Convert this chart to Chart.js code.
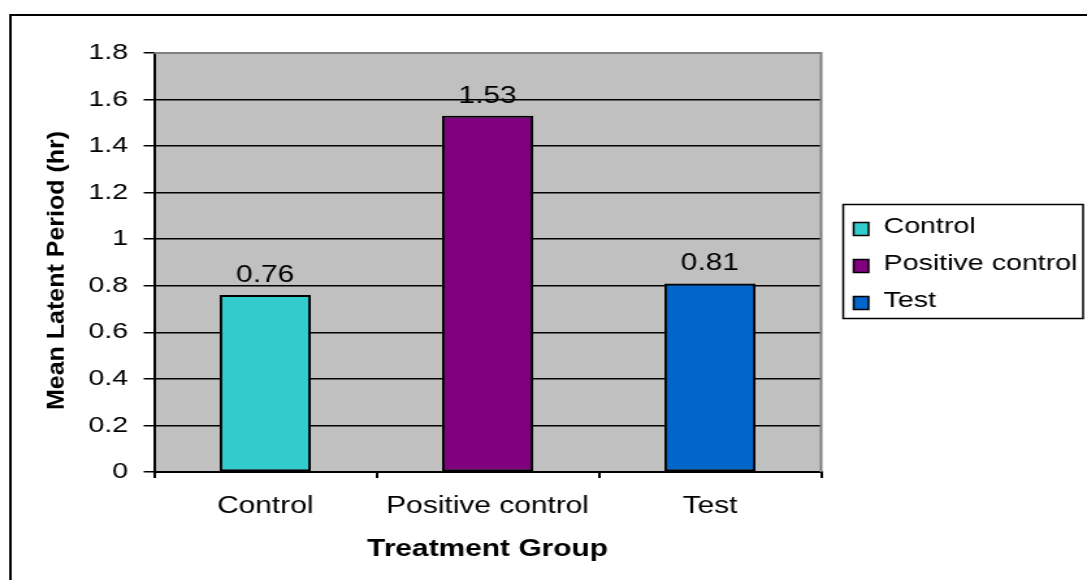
<!DOCTYPE html>
<html>
<head>
<meta charset="utf-8">
<script src="https://cdn.jsdelivr.net/npm/chart.js@4.4.1/dist/chart.umd.min.js"></script>
<style>
  html, body { margin: 0; padding: 0; background: #fff; overflow: hidden; }
  #chart { display: block; }
</style>
</head>
<body>
<canvas id="chart" width="836" height="580" style="width:1087px;height:580px"></canvas>
<script>
// Chart data
const categories = ['Control', 'Positive control', 'Test'];
const latentPeriod = [0.76, 1.53, 0.81];
const barColors = ['#33CCCC', '#800080', '#0066CC'];
const yTickLabels = ['0', '0.2', '0.4', '0.6', '0.8', '1', '1.2', '1.4', '1.6', '1.8'];
const xTitle = 'Treatment Group';
const yTitle = 'Mean Latent Period (hr)';

// canvas is drawn narrower and stretched sideways to 1087px, like the original picture
const STRETCH = 1087 / 836;
const FONT = 'Arial, "Liberation Sans", sans-serif';

// white page, outer frame and grey plot area
const plotFrame = {
    id: 'plotFrame',
    beforeDraw(chart) {
        const { ctx, chartArea: a } = chart;
        ctx.save();
        ctx.fillStyle = '#fff';
        ctx.fillRect(0, 0, chart.width, chart.height);
        ctx.strokeStyle = '#000';
        ctx.lineWidth = 2;
        ctx.strokeRect(8, 15, chart.width + 20, chart.height + 20);
        ctx.fillStyle = '#C0C0C0';
        ctx.fillRect(a.left, a.top, a.right - a.left, a.bottom - a.top);
        ctx.restore();
    },
    beforeDatasetsDraw(chart) {
        const { ctx, chartArea: a } = chart;
        ctx.save();
        ctx.strokeStyle = '#808080';
        ctx.lineWidth = 2;
        ctx.beginPath();
        ctx.moveTo(a.left, a.top);
        ctx.lineTo(a.right, a.top);
        ctx.lineTo(a.right, a.bottom);
        ctx.stroke();
        ctx.restore();
    }
};

// value labels above the bars
const barLabels = {
    id: 'barLabels',
    afterDatasetsDraw(chart) {
        const { ctx } = chart;
        const meta = chart.getDatasetMeta(0);
        ctx.save();
        ctx.font = '23px ' + FONT;
        ctx.fillStyle = '#000';
        ctx.textAlign = 'center';
        ctx.textBaseline = 'alphabetic';
        meta.data.forEach((bar, i) => {
            ctx.fillText(latentPeriod[i].toFixed(2), bar.x, bar.y - 13);
        });
        ctx.restore();
    }
};

// boxed legend to the right of the plot
const boxLegend = {
    id: 'boxLegend',
    afterDraw(chart) {
        const { ctx, chartArea: a } = chart;
        const mid = (a.top + a.bottom) / 2 - 1;
        const left = a.right + 17;
        const right = chart.width - 3;
        const rowGap = 37;
        ctx.save();
        ctx.lineWidth = 1.5;
        ctx.strokeStyle = '#000';
        ctx.strokeRect(left, mid - 57, right - left, 114);
        ctx.font = '22px ' + FONT;
        ctx.textBaseline = 'middle';
        categories.forEach((name, i) => {
            const y = mid + 2 + (i - 1) * rowGap;
            ctx.fillStyle = barColors[i];
            ctx.fillRect(left + 8, y - 4, 11.5, 13);
            ctx.lineWidth = 1.5;
            ctx.strokeRect(left + 8, y - 4, 11.5, 13);
            ctx.fillStyle = '#000';
            ctx.fillText(name, left + 31, y);
        });
        ctx.restore();
    }
};

// rotated y axis title, drawn without the sideways stretch
const yAxisTitle = {
    id: 'yAxisTitle',
    afterDraw(chart) {
        const { ctx, chartArea: a } = chart;
        ctx.save();
        ctx.translate(44, (a.top + a.bottom) / 2 + 8);
        ctx.scale(1 / STRETCH, 1);
        ctx.rotate(-Math.PI / 2);
        ctx.font = 'bold 25px ' + FONT;
        ctx.fillStyle = '#000';
        ctx.textAlign = 'center';
        ctx.textBaseline = 'middle';
        ctx.fillText(yTitle, 0, 0);
        ctx.restore();
    }
};

new Chart(document.getElementById('chart'), {
    type: 'bar',
    data: {
        labels: categories,
        datasets: [{
            data: latentPeriod,
            backgroundColor: barColors,
            borderColor: '#000',
            borderWidth: 2,
            borderSkipped: false,
            categoryPercentage: 1,
            barPercentage: 0.41
        }]
    },
    options: {
        responsive: false,
        animation: false,
        devicePixelRatio: 1,
        layout: { padding: { left: 0, top: 53, right: 204.5, bottom: 0 } },
        plugins: {
            legend: { display: false },
            tooltip: { enabled: false }
        },
        scales: {
            x: {
                grid: { display: true, drawOnChartArea: false, offset: true, tickLength: 6, color: '#000', lineWidth: 2 },
                border: { color: '#000', width: 2 },
                ticks: { color: '#000', font: { family: FONT, size: 23 }, padding: 15, maxRotation: 0, autoSkip: false },
                title: {
                    display: true,
                    text: xTitle,
                    color: '#000',
                    font: { family: FONT, size: 23, weight: 'bold' },
                    padding: { top: 0, bottom: 17 }
                },
                afterFit(scale) { scale.height = 108; }
            },
            y: {
                min: 0,
                max: 1.8,
                ticks: {
                    stepSize: 0.2,
                    color: '#000',
                    font: { family: FONT, size: 22 },
                    padding: 12,
                    callback: (v, i) => yTickLabels[i]
                },
                grid: {
                    color: c => c.index === yTickLabels.length - 1 ? '#808080' : '#000',
                    tickColor: '#000',
                    lineWidth: 1.5,
                    tickLength: 8
                },
                border: { color: '#000', width: 2 },
                afterFit(scale) { scale.width = 118.5; }
            }
        }
    },
    plugins: [plotFrame, barLabels, boxLegend, yAxisTitle]
});
</script>
</body>
</html>
